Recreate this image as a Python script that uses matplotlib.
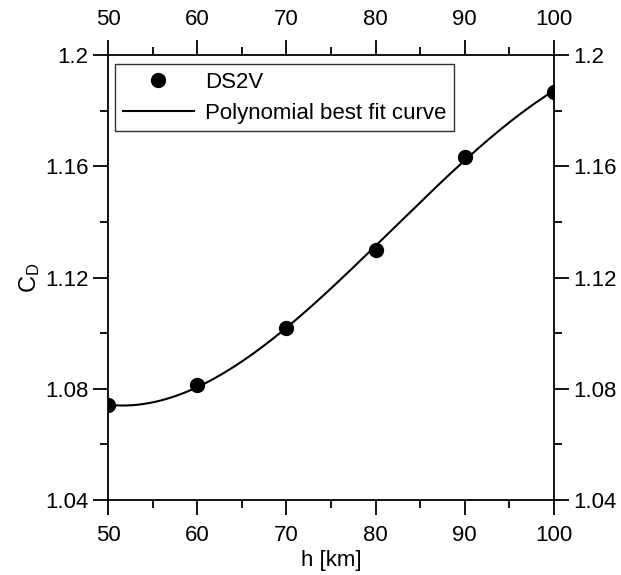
import numpy as np
import matplotlib.pyplot as plt
from matplotlib.ticker import MultipleLocator

plt.rcParams['font.family'] = ['Liberation Sans', 'DejaVu Sans']
plt.rcParams['mathtext.fontset'] = 'custom'
plt.rcParams['mathtext.rm'] = 'Liberation Sans'

# DS2V results
altitude = [50, 60, 70, 80, 90, 100]
cd_ds2v = [1.074, 1.0812, 1.102, 1.130, 1.1635, 1.1868]

x_ticks = [50, 60, 70, 80, 90, 100]
y_ticks = [1.04, 1.08, 1.12, 1.16, 1.2]
y_tick_labels = ['1.04', '1.08', '1.12', '1.16', '1.2']

# polynomial best fit through the DS2V points
coeffs = np.polyfit(altitude, cd_ds2v, 3)
h_fit = np.linspace(altitude[0], altitude[-1], 300)
cd_fit = np.polyval(coeffs, h_fit)

fig = plt.figure(figsize=(6.21, 5.75), dpi=100)
ax = fig.add_axes([0.1739, 0.1304, 0.7182, 0.7739])

ax.plot(altitude, cd_ds2v, 'o', color='black', markersize=10, label='DS2V', zorder=3)
ax.plot(h_fit, cd_fit, '-', color='black', lw=1.5, label='Polynomial best fit curve')

ax.set_xlim(50, 100)
ax.set_ylim(1.04, 1.2)
ax.set_xticks(x_ticks)
ax.set_yticks(y_ticks)
ax.set_yticklabels(y_tick_labels)
ax.xaxis.set_minor_locator(MultipleLocator(5))
ax.yaxis.set_minor_locator(MultipleLocator(0.02))

ax.tick_params(which='both', direction='out', top=True, right=True,
               labeltop=True, labelright=True, labelsize=16, width=1.3)
ax.tick_params(which='major', length=11)
ax.tick_params(which='minor', length=5.5)
ax.tick_params(axis='x', pad=7)
ax.tick_params(axis='y', pad=3)
for s in ax.spines.values():
    s.set_linewidth(1.3)

ax.set_xlabel('h [km]', fontsize=16, labelpad=3)
ax.set_ylabel(r'$\mathregular{C_D}$', fontsize=17, labelpad=2)

leg = ax.legend(loc='upper left', bbox_to_anchor=(0.016, 0.98), fontsize=16,
                frameon=True, fancybox=False, edgecolor='black',
                handlelength=3.2, handletextpad=0.5, borderpad=0.35,
                labelspacing=0.45, borderaxespad=0)
leg.get_frame().set_linewidth(1.0)

plt.savefig('out.png', dpi=100)
